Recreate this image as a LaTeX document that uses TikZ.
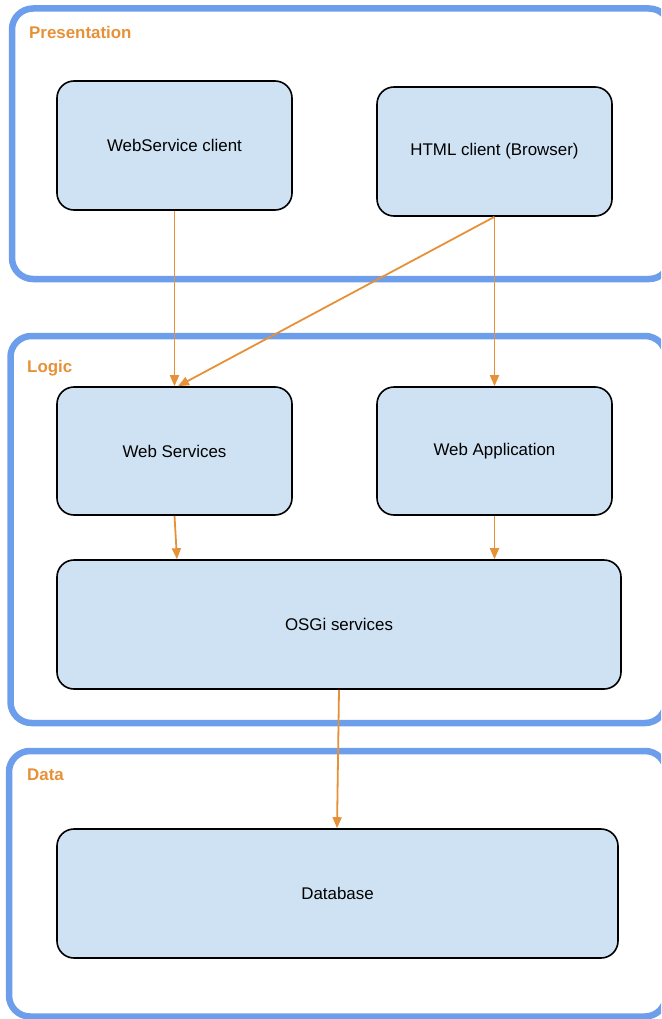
\documentclass[tikz,border=0pt]{standalone}
\usepackage{fontspec}
\setmainfont{Liberation Sans}
\usetikzlibrary{arrows.meta}
\definecolor{tierblue}{HTML}{6D9EEB}
\definecolor{tierorange}{HTML}{E69138}
\definecolor{boxfill}{HTML}{CFE2F3}
\tikzset{
  tier/.style={draw=tierblue, line width=6.5pt, rounded corners=21pt},
  tierlabel/.style={anchor=base west, inner sep=0pt, text=tierorange,
    font=\fontsize{16.9}{20}\selectfont\bfseries},
  comp/.style={draw=black, line width=1.6pt, fill=boxfill, rounded corners=17pt,
    align=center, font=\fontsize{16.9}{20}\selectfont},
  flow/.style={draw=tierorange, line width=1.8pt,
    -{Triangle[length=11pt,width=9pt]}},
}
\begin{document}
\begin{tikzpicture}[x=1pt, y=-1pt]
  \useasboundingbox (0,0) rectangle (661,1019);
  \clip (0,0) rectangle (661,1019);

  % tiers
  \draw[tier] (12,8.5) rectangle (670,279);
  \draw[tier] (10.5,336) rectangle (666,723);
  \draw[tier] (9,751) rectangle (666,1016.5);
  \node[tierlabel] (lblpres) at (29,39) {Presentation};
  \node[tierlabel] (lbllogic) at (27,372) {Logic};
  \node[tierlabel] (lbldata) at (27,780) {Data};

  % components
  \node[comp, minimum width=235pt, minimum height=129pt] (wsc) at (174.5,145.5) {WebService client};
  \node[comp, minimum width=235pt, minimum height=129pt] (html) at (494.5,151.5) {HTML client (Browser)};
  \node[comp, minimum width=235pt, minimum height=128pt] (ws) at (174.5,451) {Web Services};
  \node[comp, minimum width=235pt, minimum height=128pt] (webapp) at (494.5,451) {Web Application};
  \node[comp, minimum width=564pt, minimum height=129pt] (osgi) at (339,624.5) {OSGi services};
  \node[comp, minimum width=561pt, minimum height=129pt] (db) at (337.5,893.5) {Database};

  % connectors
  \draw[flow] (wsc.south) -- (ws.north);
  \draw[flow] (html.south) -- ([xshift=3.5pt]ws.north);
  \draw[flow] (html.south) -- (webapp.north);
  \draw[flow] (ws.south) -- ([xshift=2.5pt]ws.south |- osgi.north);
  \draw[flow] (webapp.south) -- (webapp.south |- osgi.north);
  \draw[flow] (osgi.south) -- ([xshift=-2pt]osgi.south |- db.north);
\end{tikzpicture}
\end{document}
